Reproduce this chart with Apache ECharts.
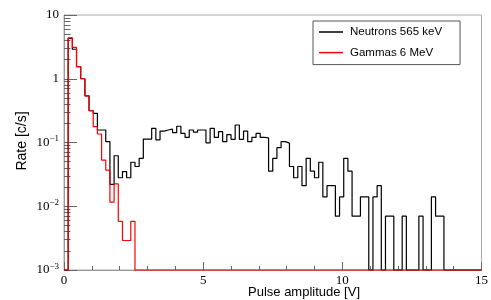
<!DOCTYPE html>
<html><head><meta charset="utf-8">
<script src="https://cdn.jsdelivr.net/npm/echarts@6/dist/echarts.min.js"></script>
<style>html,body{margin:0;padding:0;background:#fff}#c{width:491px;height:300px}</style>
</head><body><div id="c"></div>
<script>
// ---- data ----
const xMin = 0, xMax = 15, nBins = 100;
const yMin = 0.001, yMax = 10;
const seriesNames = ['Neutrons 565 keV', 'Gammas 6 MeV'];
const xTickLabels = ['0', '5', '10', '15'];
const neutrons = [
  0, 4.3, 2.9, 1.55, 1.0, 0.54, 0.315, 0.287, 0.157, 0.157,
  0.103, 0.022, 0.062, 0.028, 0.035, 0.028, 0.049, 0.042, 0.0565, 0.113,
  0.113, 0.167, 0.11, 0.151, 0.157, 0.162, 0.143, 0.18, 0.139, 0.12,
  0.157, 0.145, 0.157, 0.157, 0.099, 0.167, 0.12, 0.148, 0.103, 0.133,
  0.112, 0.188, 0.112, 0.151, 0.103, 0.12, 0.139, 0.12, 0.118, 0.0355,
  0.0565, 0.083, 0.103, 0.098, 0.042, 0.028, 0.042, 0.021, 0.0565, 0.0355,
  0.028, 0.049, 0.014, 0.021, 0.021, 0.007, 0.014, 0.0565, 0.0355, 0.007,
  0.007, 0.014, 0.014, 0, 0.014, 0.021, 0, 0.007, 0.007, 0,
  0, 0.007, 0, 0, 0, 0.007, 0, 0, 0.014, 0.007,
  0.007, 0, 0, 0, 0, 0, 0, 0, 0, 0
];
const gammas = [
  0, 4.4, 3.1, 1.55, 1.0, 0.54, 0.315, 0.177, 0.136, 0.053,
  0.037, 0.0116, 0.0225, 0.0058, 0.0029, 0.0029, 0.0058, 0, 0, 0,
  0, 0, 0, 0, 0, 0, 0, 0, 0, 0,
  0, 0, 0, 0, 0, 0, 0, 0, 0, 0,
  0, 0, 0, 0, 0, 0, 0, 0, 0, 0,
  0, 0, 0, 0, 0, 0, 0, 0, 0, 0,
  0, 0, 0, 0, 0, 0, 0, 0, 0, 0,
  0, 0, 0, 0, 0, 0, 0, 0, 0, 0,
  0, 0, 0, 0, 0, 0, 0, 0, 0, 0,
  0, 0, 0, 0, 0, 0, 0, 0, 0, 0
];

// ---- build ----
function histPoints(vals) {
  const w = (xMax - xMin) / nBins;
  const pts = vals.map((v, i) => [xMin + i * w, v > 0 ? v : yMin]);
  const last = vals[vals.length - 1];
  pts.push([xMax, last > 0 ? last : yMin]);
  return pts;
}
// minor log ticks (2..9 per decade), in exponent space
const minorExps = [];
for (let e = Math.log10(yMin); e < Math.log10(yMax); e++) {
  for (let k = 2; k <= 9; k++) minorExps.push(e + Math.log10(k));
}
const serif = "'Liberation Serif','Times New Roman',serif";
const sans = "'Liberation Sans',Arial,Helvetica,sans-serif";
const tickColor = '#666';

const chart = echarts.init(document.getElementById('c'), null, {renderer: 'canvas'});
chart.setOption({
  animation: false,
  backgroundColor: '#fff',
  grid: {left: 64, right: 4, top: 15, bottom: 30, show: true, borderColor: '#aaa', borderWidth: 1, backgroundColor: 'transparent'},
  xAxis: {
    type: 'value', min: xMin, max: xMax, interval: 5,
    axisLine: {show: true, onZero: false, lineStyle: {color: '#999', width: 1}},
    axisTick: {show: true, inside: true, length: 8, lineStyle: {color: tickColor}},
    minorTick: {show: true, splitNumber: 5, length: 4, lineStyle: {color: tickColor}},
    splitLine: {show: false},
    axisLabel: {
      formatter: v => xTickLabels[Math.round(v / 5)],
      fontFamily: serif, fontSize: 13, color: '#000', margin: 4
    }
  },
  yAxis: [
    {
      type: 'log', logBase: 10, min: yMin, max: yMax,
      axisLine: {show: true, onZero: false, lineStyle: {color: '#999', width: 1}},
      axisTick: {show: true, inside: true, length: 13, lineStyle: {color: tickColor}},
      splitLine: {show: false},
      axisLabel: {
        fontFamily: serif, fontSize: 13, color: '#000', margin: 5,
        formatter: v => {
          const e = Math.round(Math.log10(v));
          if (e === 0) return '1';
          if (e === 1) return '10';
          return '10{s|\u2212' + (-e) + '}';
        },
        rich: {s: {fontFamily: serif, fontSize: 9, verticalAlign: 'top', lineHeight: 16, color: '#000'}}
      }
    },
    {
      type: 'value', min: Math.log10(yMin), max: Math.log10(yMax), position: 'left',
      axisLine: {show: false, onZero: false},
      axisLabel: {show: false},
      splitLine: {show: false},
      axisTick: {show: true, inside: true, length: 6.5, customValues: minorExps, lineStyle: {color: tickColor}}
    }
  ],
  legend: {
    data: seriesNames, orient: 'vertical', left: 313, top: 21,
    padding: [4, 18, 5, 6], itemGap: 6.6, itemWidth: 24, itemHeight: 1.5, icon: 'rect',
    backgroundColor: '#fff', borderColor: '#555', borderWidth: 1, selectedMode: false,
    textStyle: {fontFamily: sans, fontSize: 11.5, color: '#000', lineHeight: 14, padding: [0, 0, 0, 2]}
  },
  graphic: [
    {type: 'text', x: 22, y: 141, rotation: Math.PI / 2,
     style: {text: 'Rate [c/s]', font: '14px ' + sans, fill: '#000', align: 'center', verticalAlign: 'middle'}},
    {type: 'text', x: 360, y: 292,
     style: {text: 'Pulse amplitude [V]', font: '13px ' + sans, fill: '#000', align: 'right', verticalAlign: 'middle'}}
  ],
  series: [
    {name: seriesNames[0], type: 'line', step: 'end', symbol: 'none', clip: false,
     data: histPoints(neutrons), lineStyle: {color: '#000', width: 1.2}, itemStyle: {color: '#000'}},
    {name: seriesNames[1], type: 'line', step: 'end', symbol: 'none', clip: false,
     data: histPoints(gammas), lineStyle: {color: '#ff0000', width: 1.2}, itemStyle: {color: '#ff0000'}}
  ]
});
</script>
</body></html>
